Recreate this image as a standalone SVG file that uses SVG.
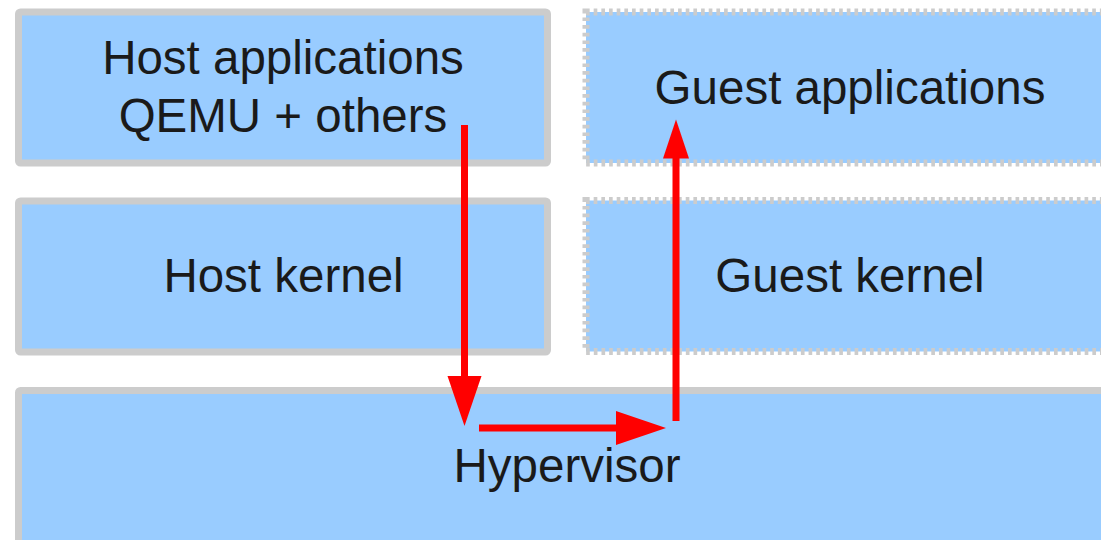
<svg xmlns="http://www.w3.org/2000/svg" width="1101" height="540" viewBox="0 0 1101 540">
<style>
.host{fill:#99ccff;stroke:#cccccc;stroke-width:7}
.guest{fill:#99ccff;stroke:#cccccc;stroke-width:7;stroke-dasharray:3.67 4}
.lbl{font-family:"Liberation Sans",Arial,sans-serif;font-size:47.5px;fill:#1a1a1a;text-anchor:middle}
.arr{fill:none;stroke:#ff0000;stroke-width:7}
</style>
<defs>
<marker id="headBig" markerUnits="userSpaceOnUse" markerWidth="52" markerHeight="36" refX="1" refY="17" orient="auto" viewBox="0 0 52 36">
<path d="M0,0 L50,17 L0,34 z" fill="#ff0000"/>
</marker>
<marker id="headSmall" markerUnits="userSpaceOnUse" markerWidth="41" markerHeight="28" refX="1" refY="13" orient="auto" viewBox="0 0 41 28">
<path d="M0,0 L39,13 L0,26 z" fill="#ff0000"/>
</marker>
</defs>
<rect width="1101" height="540" fill="#ffffff"/>
<g id="host-apps">
<rect class="host" x="18.5" y="12" width="529" height="151" rx="2"/>
<text class="lbl" x="283" y="74">Host applications</text>
<text class="lbl" x="283" y="132">QEMU + others</text>
</g>
<g id="host-kernel">
<rect class="host" x="18.5" y="201" width="529" height="151" rx="2"/>
<text class="lbl" x="283.5" y="292">Host kernel</text>
</g>
<g id="guest-apps">
<rect class="guest" x="586" y="12" width="540" height="151"/>
<text class="lbl" x="850" y="104">Guest applications</text>
</g>
<g id="guest-kernel">
<rect class="guest" x="586" y="200.5" width="540" height="151"/>
<text class="lbl" x="850" y="292">Guest kernel</text>
</g>
<g id="hypervisor">
<rect class="host" x="18.5" y="390.5" width="1100" height="170" rx="2"/>
<text class="lbl" x="567" y="482">Hypervisor</text>
</g>
<g id="connectors">
<path class="arr" d="M464.5,125 V377" marker-end="url(#headBig)"/>
<path class="arr" d="M479,428 H617" marker-end="url(#headBig)"/>
<path class="arr" d="M676,421 V157.5" marker-end="url(#headSmall)"/>
</g>
</svg>
